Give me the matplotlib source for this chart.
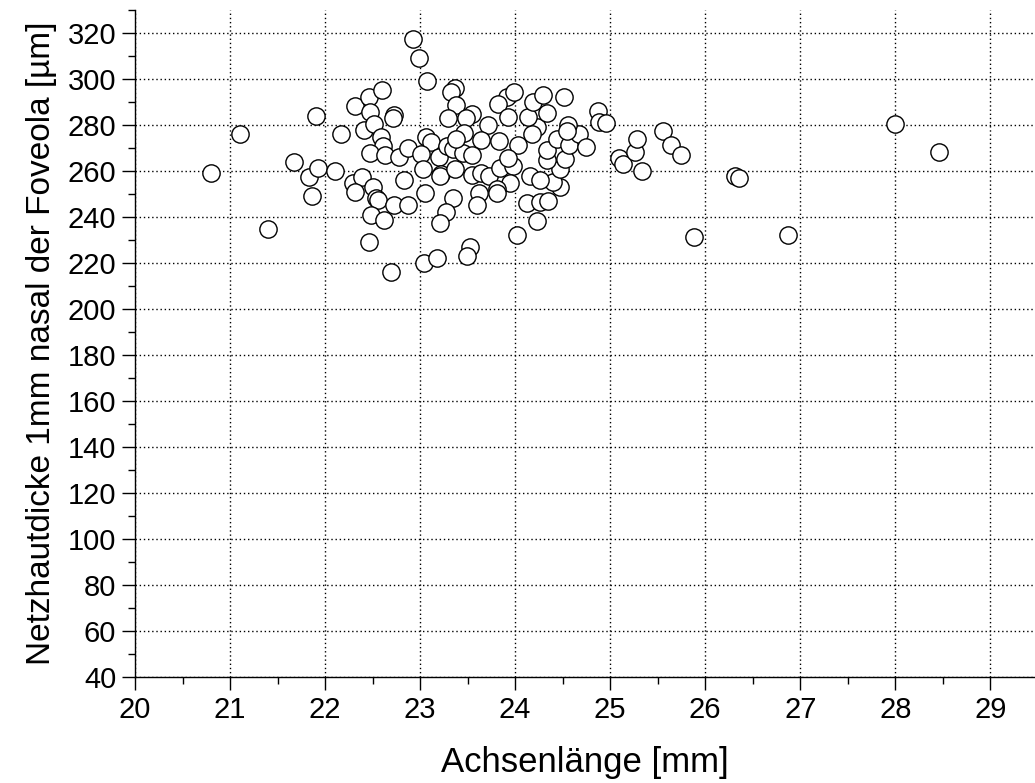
import matplotlib
matplotlib.use("Agg")
import matplotlib.pyplot as plt
from matplotlib.ticker import MultipleLocator

# Achsenlänge [mm] und Netzhautdicke 1 mm nasal der Foveola [µm]
achsenlaenge = [
    20.80, 21.10, 21.40, 21.67, 21.83, 21.86, 21.90, 21.93, 22.10, 22.17,
    22.32, 22.46, 22.60, 22.47, 22.41, 22.52, 22.73, 22.71, 22.59, 22.61,
    22.47, 22.63, 22.78, 22.87, 22.83, 22.29, 22.39, 22.32, 22.50, 22.54,
    22.56, 22.73, 22.87, 22.48, 22.62, 22.46, 22.69, 22.92, 22.99, 23.07,
    23.37, 23.32, 23.38, 23.55, 23.48, 23.29, 23.71, 23.46, 23.64, 23.83,
    24.03, 23.06, 23.11, 23.01, 23.20, 23.28, 23.35, 23.45, 23.55, 23.03,
    23.22, 23.21, 23.37, 23.55, 23.64, 23.72, 23.84, 23.98, 23.95, 23.81,
    23.81, 23.62, 23.60, 23.05, 23.35, 23.27, 23.21, 23.52, 23.49, 23.04,
    23.18, 24.02, 24.23, 24.12, 24.26, 24.35, 24.47, 24.40, 24.16, 24.26,
    24.47, 24.52, 24.34, 24.34, 24.44, 24.57, 24.67, 24.75, 24.56, 24.55,
    24.23, 24.18, 24.13, 24.34, 24.19, 24.29, 24.51, 23.91, 23.99, 23.82,
    23.92, 24.87, 24.88, 24.96, 25.09, 25.14, 25.26, 25.28, 25.33, 25.56,
    25.64, 25.75, 26.31, 26.36, 25.88, 26.87, 28.00, 28.46, 23.92, 23.38,
]
netzhautdicke = [
    259.0, 276.0, 235.0, 264.0, 257.2, 249.0, 284.0, 261.2, 260.0, 276.0,
    288.3, 292.2, 295.2, 285.5, 278.0, 280.3, 284.2, 283.0, 274.6, 271.0,
    268.0, 267.0, 266.2, 270.1, 256.0, 254.8, 257.5, 251.0, 253.1, 248.3,
    247.5, 245.2, 245.2, 241.0, 238.9, 229.2, 216.0, 317.5, 309.2, 299.3,
    296.0, 294.2, 288.5, 285.0, 283.1, 283.2, 280.2, 276.4, 273.4, 273.0,
    271.1, 274.6, 272.4, 267.3, 266.2, 270.7, 269.4, 268.0, 267.0, 261.0,
    258.5, 257.8, 261.0, 258.3, 259.0, 258.0, 261.2, 262.3, 255.0, 252.1,
    250.3, 250.3, 245.2, 250.3, 248.1, 242.2, 237.2, 227.1, 223.0, 220.2,
    222.0, 232.1, 238.3, 246.2, 246.4, 247.0, 253.2, 255.2, 258.0, 256.1,
    261.0, 265.1, 264.8, 269.1, 274.1, 271.2, 276.0, 270.3, 279.8, 277.3,
    279.3, 275.9, 283.4, 285.2, 290.2, 293.0, 292.2, 292.2, 294.2, 289.2,
    283.4, 286.3, 281.4, 281.0, 265.6, 263.2, 268.2, 274.0, 260.0, 277.2,
    271.4, 267.1, 258.0, 257.1, 231.1, 232.2, 280.3, 268.3, 265.5, 274.1,
]

plt.rcParams["font.family"] = ["Liberation Sans", "DejaVu Sans"]

fig = plt.figure(figsize=(10.35, 7.83), dpi=100)
ax = fig.add_axes([135 / 1035, 106 / 783, 900 / 1035, 667 / 783])

# gepunktetes Gitter unter den offenen Kreisen
ax.grid(True, which="major", color="black", linestyle=(0, (1, 2)), linewidth=1.0, zorder=1)
ax.scatter(achsenlaenge, netzhautdicke, s=155, facecolors="white", edgecolors="black",
           linewidths=1.0, zorder=3, clip_on=False)

ax.set_xlim(20, 29.47)
ax.set_ylim(40, 330)
ax.xaxis.set_major_locator(MultipleLocator(1))
ax.xaxis.set_minor_locator(MultipleLocator(0.5))
ax.yaxis.set_minor_locator(MultipleLocator(10))
ax.set_yticks(range(40, 321, 20))

ax.tick_params(which="major", direction="out", length=9.5, width=1.0, labelsize=21, pad=4)
ax.tick_params(which="minor", direction="out", length=5, width=1.0)

for side in ("top", "right"):
    ax.spines[side].set_visible(False)
for side in ("left", "bottom"):
    ax.spines[side].set_linewidth(1.0)

ax.set_xlabel("Achsenlänge [mm]", fontsize=25, labelpad=16)
ax.set_ylabel("Netzhautdicke 1mm nasal der Foveola [µm]", fontsize=24, labelpad=8)

fig.savefig("out.png", dpi=100)
